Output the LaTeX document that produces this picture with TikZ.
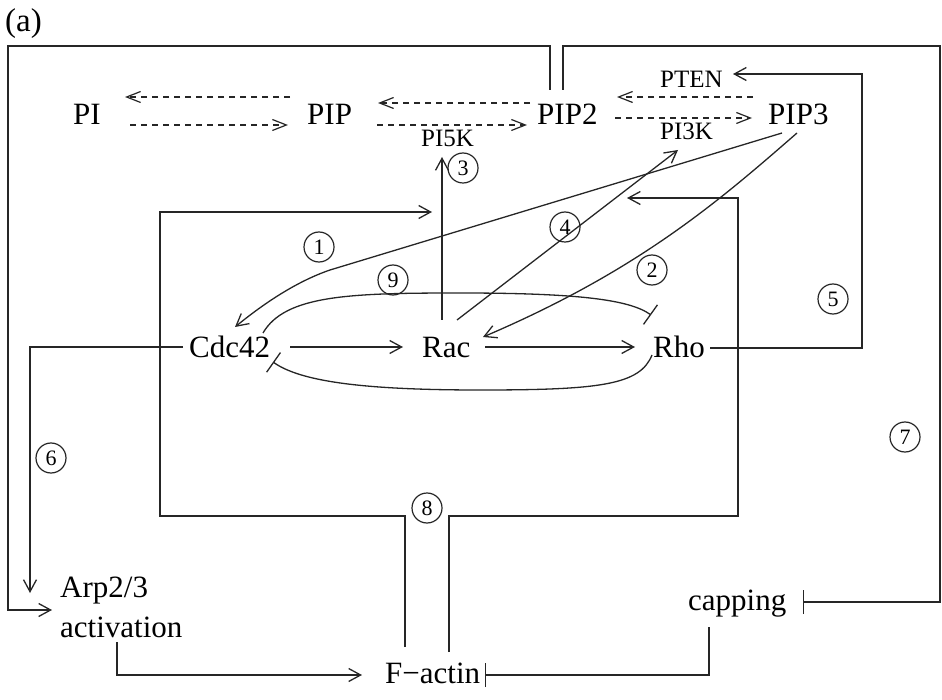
\documentclass[tikz,border=0pt]{standalone}
\usepackage{fontspec}
\setmainfont{Liberation Serif}
\usetikzlibrary{arrows.meta}
\begin{document}
\begin{tikzpicture}[x=1pt,y=-1pt,
  lbl/.style={inner sep=0pt, anchor=base west, font=\fontsize{31}{40}\selectfont},
  enz/.style={inner sep=0pt, anchor=base west, font=\fontsize{25}{30}\selectfont},
  num/.style={circle, draw=black!85, line width=1.2pt, minimum size=30pt, inner sep=0pt, font=\fontsize{22}{24}\selectfont},
  ln/.style={line width=1.3pt, draw=black!85},
  act/.style={ln, -{Straight Barb[length=12pt,width=13pt,line width=1.3pt]}},
  inh/.style={ln, -{Bar[width=24pt,line width=1.3pt]}},
  dsh/.style={line width=1.2pt, draw=black!85, dash pattern=on 6pt off 5pt, -{Straight Barb[length=14pt,width=11pt,line width=1.2pt]}},
]
\useasboundingbox (0,0) rectangle (942,700);

% nodes
\node[lbl, font=\fontsize{33}{40}\selectfont] (a) at (5,32) {(a)};
\node[lbl] (PI) at (73,125) {PI};
\node[lbl] (PIP) at (307,125) {PIP};
\node[lbl] (PIP2) at (537,125) {PIP2};
\node[lbl] (PIP3) at (768,125) {PIP3};
\node[enz] (PTEN) at (660,88) {PTEN};
\node[enz] (PI3K) at (660,140) {PI3K};
\node[enz] (PI5K) at (421,147) {PI5K};
\node[lbl] (Cdc42) at (189,357) {Cdc42};
\node[lbl] (Rac) at (422,357) {Rac};
\node[lbl] (Rho) at (653,357) {Rho};
\node[lbl, align=left] (Arp) at (60,637) {Arp2/3\\activation};
\node[lbl] (Factin) at (385,683) {F−actin};
\node[lbl] (capping) at (688,610) {capping};

\node[num] (n1) at (319,247) {1};
\node[num] (n2) at (652,270) {2};
\node[num] (n3) at (463,168) {3};
\node[num] (n4) at (565,227) {4};
\node[num] (n5) at (833,299) {5};
\node[num] (n6) at (51,458) {6};
\node[num] (n7) at (905,437) {7};
\node[num] (n8) at (427,508) {8};
\node[num] (n9) at (393,280) {9};

% phosphoinositide conversions
\draw[dsh] (290,97) -- (125,97);
\draw[dsh] (130,125) -- (288,125);
\draw[dsh] (530,103) -- (378,103);
\draw[dsh] (377,125) -- (527,125);
\draw[dsh] (753,97) -- (617,97);
\draw[dsh] (615,118) -- (752,118);

% outer loops from PIP2
\draw[act] (550,90) -- (550,46) -- (8,46) -- (8,610) -- (52,610);
\draw[inh] (563,90) -- (563,46) -- (940,46) -- (940,602) -- (803,602);

% F-actin loops
\draw[act] (405,647) -- (405,516) -- (160,516) -- (160,212) -- (432,212);
\draw[act] (449,652) -- (449,516) -- (738,516) -- (738,198) -- (627,198);

% 1: PIP3 -> Cdc42
\draw[act] (782,133) -- (330,270) .. controls (295,282) and (262,305) .. (235,327);
% 2: PIP3 -> Rac
\draw[act] (797,133) .. controls (720,200) and (640,270) .. (483,337);
% 3: Rac -> PI5K
\draw[act] (442,320) -- (442,157);
% 4: Rac -> PI3K
\draw[act] (457,320) -- (678,150);
% 5: Rho -> PTEN
\draw[act] (710,348) -- (862,348) -- (862,74) -- (733,74);
% 6: Cdc42 -> Arp2/3
\draw[act] (183,347) -- (30,347) -- (30,593);
% Cdc42 -> Rac -> Rho
\draw[act] (290,347) -- (403,347);
\draw[act] (485,347) -- (635,347);
% 9: mutual inhibition
\draw[inh] (263,333) .. controls (285,295) and (350,293) .. (460,293) .. controls (580,293) and (630,300) .. (651,315);
\draw[inh] (652,355) .. controls (640,385) and (600,390) .. (480,390) .. controls (360,390) and (300,381) .. (273,362);
% Arp2/3 -> F-actin, capping -| F-actin
\draw[act] (117,642) -- (117,675) -- (362,675);
\draw[inh] (709,627) -- (709,675) -- (485,675);
\end{tikzpicture}
\end{document}
